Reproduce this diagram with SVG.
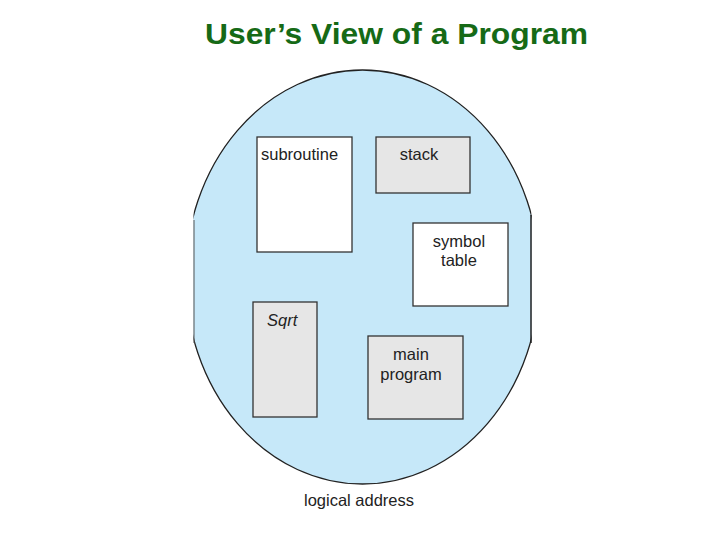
<svg xmlns="http://www.w3.org/2000/svg" width="720" height="540" viewBox="0 0 720 540">
<style>
text{font-family:"Liberation Sans",Arial,sans-serif;fill:#222}
.lbl{font-size:16.5px}
.box{stroke:#333;stroke-width:1.3}
.w{fill:#fff}
.g{fill:#e6e6e6}
</style>
<defs>
<clipPath id="clip"><rect x="193.5" y="60" width="338" height="460"/></clipPath>
</defs>
<rect width="720" height="540" fill="#fff"/>
<text x="205" y="44" font-size="29.5" font-weight="bold" style="fill:#166a16" textLength="383" lengthAdjust="spacingAndGlyphs">User’s View of a Program</text>
<g id="space">
<ellipse cx="362.5" cy="277" rx="177" ry="207" fill="#c6e8f9" stroke="#222" stroke-width="1.3" clip-path="url(#clip)"/>
<line x1="194" y1="220" x2="194" y2="343" stroke="#555" stroke-width="1"/>
<line x1="531" y1="215" x2="531" y2="343" stroke="#222" stroke-width="1.5"/>
</g>
<g id="subroutine">
<rect class="box w" x="257" y="137" width="95" height="115"/>
<text class="lbl" x="261" y="160">subroutine</text>
</g>
<g id="stack">
<rect class="box g" x="376" y="137" width="94" height="56"/>
<text class="lbl" x="419" y="160" text-anchor="middle">stack</text>
</g>
<g id="symbol-table">
<rect class="box w" x="413" y="223" width="95" height="83"/>
<text class="lbl" x="459" y="247" text-anchor="middle">symbol</text>
<text class="lbl" x="459" y="266" text-anchor="middle">table</text>
</g>
<g id="sqrt">
<rect class="box g" x="253" y="302" width="64" height="115"/>
<text class="lbl" x="267" y="326" font-style="italic">Sqrt</text>
</g>
<g id="main-program">
<rect class="box g" x="368" y="336" width="95" height="83"/>
<text class="lbl" x="411" y="360" text-anchor="middle">main</text>
<text class="lbl" x="411" y="380" text-anchor="middle">program</text>
</g>
<g id="connectors"></g>
<text class="lbl" x="359" y="506" text-anchor="middle">logical address</text>
</svg>
